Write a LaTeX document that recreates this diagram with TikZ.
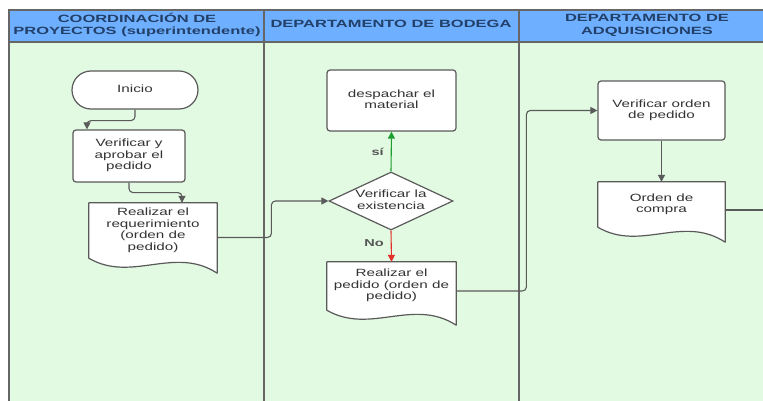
\documentclass[tikz,border=0pt]{standalone}
\usepackage{fontspec}
\setmainfont{Liberation Sans}
\usetikzlibrary{arrows.meta,shapes.geometric,calc}

\definecolor{lanefill}{HTML}{E2F9E2}
\definecolor{headfill}{HTML}{6EB0FF}
\definecolor{headtext}{HTML}{22406A}
\definecolor{edge}{HTML}{5A5A5A}
\definecolor{lanerule}{HTML}{666666}
\definecolor{bodytext}{HTML}{333333}
\definecolor{labeltext}{HTML}{555555}
\definecolor{yesgreen}{HTML}{1E9E2E}
\definecolor{nored}{HTML}{E2302A}

% wide sans text, stacked lines centred
\newcommand{\bt}[1]{\scalebox{1.45}[1]{\begin{tabular}{@{}c@{}}#1\end{tabular}}}
\newcommand{\hdtxt}[1]{\scalebox{1.57}[1]{\begin{tabular}{@{}c@{}}#1\end{tabular}}}

\pgfdeclarelayer{lanes}
\pgfdeclarelayer{shapes}
\pgfsetlayers{lanes,shapes,main}

\tikzset{
  base/.style={inner sep=0pt, text=bodytext, font=\fontsize{10.5}{11.5}\selectfont},
  proc/.style={base, rectangle, rounded corners=3pt, draw=edge, line width=1.2pt, fill=white},
  term/.style={base, rectangle, rounded corners=19pt, draw=edge, line width=1.2pt, fill=white,
               minimum width=126pt, minimum height=38pt},
  dec/.style={base, diamond, aspect=2.1, draw=edge, line width=1.2pt, fill=white,
              minimum width=124pt, minimum height=58pt},
  docbox/.style={base, rectangle},
  docline/.style={draw=edge, line width=1.2pt, fill=white, line join=round},
  conn/.style={draw=edge, line width=1.1pt, rounded corners=4pt,
               -{Triangle[length=7pt,width=7pt]}},
  plain/.style={draw=edge, line width=1.1pt, rounded corners=4pt},
  head/.style={inner sep=0pt, text=headtext, font=\fontsize{10.5}{12.5}\selectfont\bfseries},
  lbl/.style={inner sep=0pt, text=labeltext, font=\fontsize{10}{12}\selectfont\bfseries},
  rule/.style={draw=lanerule, line width=2pt}
}

% outline of a document symbol around a node: wavy bottom edge
\newcommand{\docwave}[1]{%
  \begin{pgfonlayer}{shapes}
  \path[docline] (#1.south west) -- (#1.north west) -- (#1.north east)
    -- ([yshift=-15pt]#1.south east)
    .. controls ($(#1.south west)!0.667!(#1.south east)+(0pt,13pt)$)
       and ($(#1.south west)!0.333!(#1.south east)+(0pt,-25pt)$) .. (#1.south west)
    -- cycle;
  \end{pgfonlayer}}

\begin{document}
\begin{tikzpicture}[x=1pt, y=-1pt]
\useasboundingbox (0,0) rectangle (763,401);

% swimlanes
\begin{pgfonlayer}{lanes}
  \begin{scope}
    \clip (0,0) rectangle (763,401);
    \fill[white] (0,0) rectangle (763,401);
    \fill[lanefill] (9,42.5) rectangle (790,410);
    \fill[headfill] (9,10) rectangle (790,42.5);
    \draw[rule] (9,10) -- (790,10);
    \draw[rule] (9,42.5) -- (790,42.5);
    \draw[rule] (9,9) -- (9,410);
    \draw[rule] (264,9) -- (264,410);
    \draw[rule] (518.5,9) -- (518.5,410);
  \end{scope}
\end{pgfonlayer}

\node[head] (h1) at (137,25.5) {\hdtxt{COORDINACIÓN DE\\PROYECTOS (superintendente)}};
\node[head] (h2) at (391,25.5) {\hdtxt{DEPARTAMENTO DE BODEGA}};
\node[head] (h3) at (647,25.5) {\hdtxt{DEPARTAMENTO DE\\ADQUISICIONES}};

% coordinación de proyectos
\node[term] (inicio) at (135,90) {\bt{Inicio}};
\node[proc, minimum width=112pt, minimum height=52pt] (verif) at (129,156)
  {\bt{Verificar y\\aprobar el\\pedido}};
\node[docbox, minimum width=128pt, minimum height=55pt] (req) at (153,230.5)
  {\bt{Realizar el\\requerimiento\\(orden de\\pedido)}};
\docwave{req}

% departamento de bodega
\node[proc, minimum width=129pt, minimum height=61pt] (desp) at (391.5,100.5)
  {\bt{despachar el\\material}};
\node[dec] (diam) at (391,201) {\bt{Verificar la\\existencia}};
\node[docbox, minimum width=129pt, minimum height=48pt] (ped) at (391.5,286)
  {\bt{Realizar el\\pedido (orden de\\pedido)}};
\docwave{ped}

% departamento de adquisiciones
\node[proc, minimum width=127pt, minimum height=59pt] (verord) at (661.5,110.5)
  {\bt{Verificar orden\\de pedido}};
\node[docbox, minimum width=127pt, minimum height=45pt] (compra) at (661.5,204.5)
  {\bt{Orden de\\compra}};
\docwave{compra}
\coordinate (salida) at (790,210);

% connectors
\draw[conn] (inicio.south) -- ++(0,11) -| ([xshift=-42pt]verif.north);
\draw[conn] (verif.south) -- ++(0,10) -| ([xshift=29pt]req.north);
\draw[conn] ([yshift=-7pt]req.east) -| ([xshift=-57pt]diam.west) -- (diam.west);
\draw[conn, draw=yesgreen, rounded corners=0pt] (diam.north) -- (desp.south)
  node[lbl, pos=0.5, left=7pt] (si) {\scalebox{1.45}[1]{sí}};
\draw[conn, draw=nored, rounded corners=0pt] (diam.south) -- (ped.north)
  node[lbl, pos=0.4, left=7pt] (no) {\scalebox{1.45}[1]{No}};
\draw[conn] ([yshift=-5pt]ped.east) -| ([xshift=-71pt]verord.west) -- (verord.west);
\draw[conn] (verord.south) -- (compra.north);
\draw[plain] ([yshift=-5.5pt]compra.east) -- (salida);
\end{tikzpicture}
\end{document}
